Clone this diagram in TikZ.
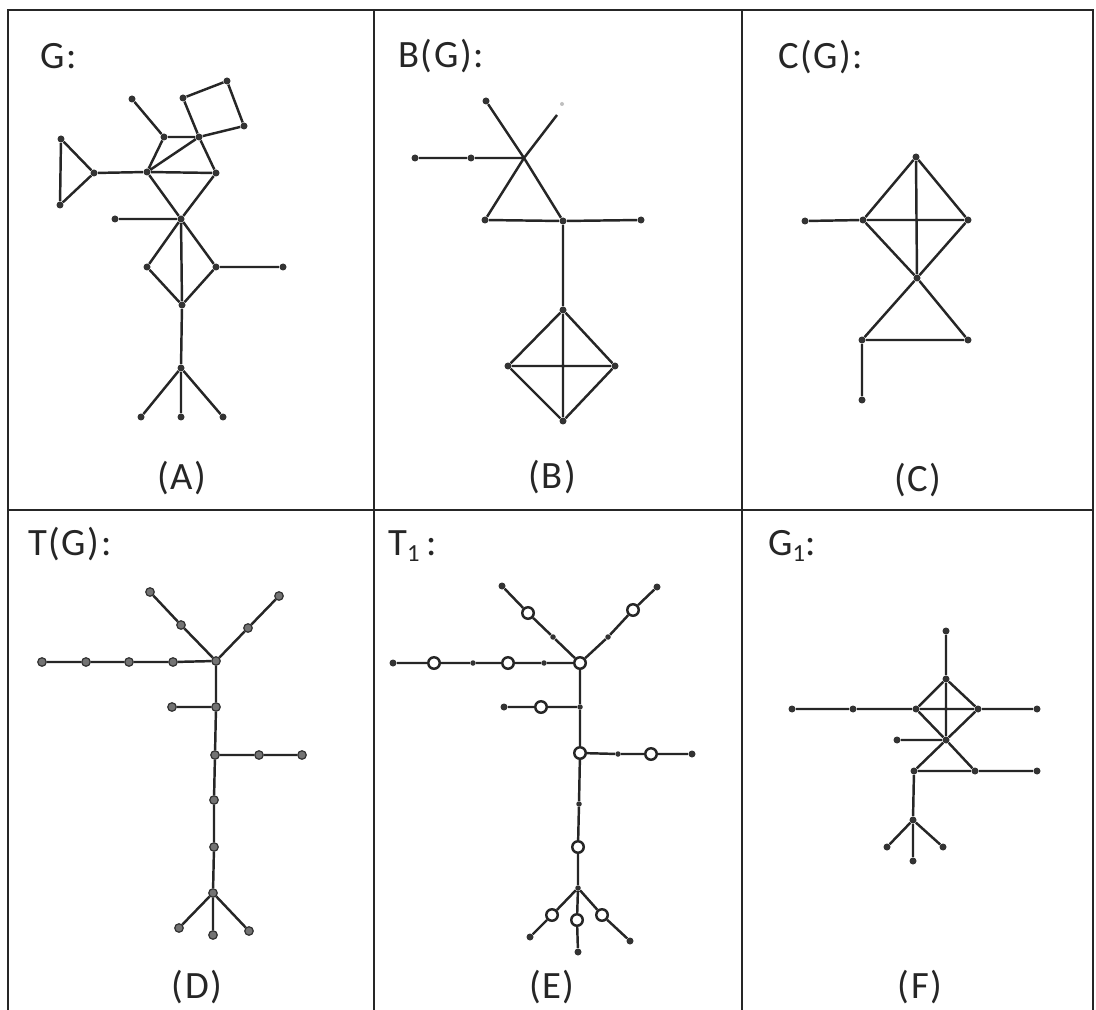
\documentclass[tikz,border=0pt]{standalone}
\usepackage{fontspec}
\setmainfont{Carlito}[LetterSpace=4]
\begin{document}
\begin{tikzpicture}[x=0.02cm,y=-0.02cm,
  edge/.style={line width=1.4pt, draw=black!85},
  v/.style={circle, fill=black!80, inner sep=0pt, minimum size=0.14cm},
  vg/.style={circle, fill=black!55, draw=black!80, line width=0.7pt, inner sep=0pt, minimum size=0.17cm},
  vo/.style={circle, fill=white, draw=black!85, line width=1.4pt, inner sep=0pt, minimum size=0.23cm},
  vs/.style={circle, fill=black!80, inner sep=0pt, minimum size=0.11cm},
  vf/.style={circle, fill=black!25, inner sep=0pt, minimum size=0.08cm},
  ttl/.style={anchor=west, inner sep=0pt, font=\fontsize{22}{22}\selectfont, text=black!85},
  lbl/.style={inner sep=0pt, font=\fontsize{22}{22}\selectfont, text=black!85},
  frame/.style={line width=1.4pt, draw=black!85}]
\useasboundingbox (0,0) rectangle (1096,1010);
\fill[white] (0,0) rectangle (1096,1010);
% frame
\draw[frame] (8,1010) -- (8,10) -- (1093,10) -- (1093,1010);
\draw[frame] (374,10) -- (374,1010);
\draw[frame] (742,10) -- (742,1010);
\draw[frame] (8,510) -- (1093,510);

% ---------- Panel A ----------
\node[ttl] (tA) at (40,56) {G:};
\node[lbl] (cA) at (182,478) {(A)};
\node[v] (a1) at (132,99) {};
\node[v] (a2) at (183,98) {};
\node[v] (a3) at (227,81) {};
\node[v] (a4) at (244,126) {};
\node[v] (a5) at (164,137) {};
\node[v] (a6) at (199,137) {};
\node[v] (a7) at (147,172) {};
\node[v] (a8) at (216,173) {};
\node[v] (a9) at (61,139) {};
\node[v] (a10) at (60,205) {};
\node[v] (a11) at (94,173) {};
\node[v] (a12) at (181,219) {};
\node[v] (a13) at (115,219) {};
\node[v] (a14) at (147,267) {};
\node[v] (a15) at (216,267) {};
\node[v] (a16) at (283,267) {};
\node[v] (a17) at (182,305) {};
\node[v] (a18) at (181,368) {};
\node[v] (a19) at (141,417) {};
\node[v] (a20) at (181,417) {};
\node[v] (a21) at (223,417) {};
\draw[edge] (a1)--(a5) (a5)--(a6) (a5)--(a7) (a7)--(a6) (a6)--(a8) (a7)--(a8)
  (a2)--(a3) (a3)--(a4) (a4)--(a6) (a6)--(a2)
  (a9)--(a10) (a9)--(a11) (a10)--(a11) (a11)--(a7)
  (a7)--(a12) (a8)--(a12) (a13)--(a12)
  (a12)--(a14) (a12)--(a15) (a14)--(a17) (a15)--(a17) (a12)--(a17) (a15)--(a16)
  (a17)--(a18) (a18)--(a19) (a18)--(a20) (a18)--(a21);

% ---------- Panel B ----------
\node[ttl] (tB) at (398,56) {B(G):};
\node[lbl] (cB) at (552,477) {(B)};
\node[v] (b1) at (486,101) {};
\coordinate (b2) at (557,115);
\node[vf] (b2m) at (562,104) {};
\coordinate (b3) at (524,158);
\node[v] (b4) at (415,158) {};
\node[v] (b5) at (471,158) {};
\node[v] (b6) at (485,220) {};
\node[v] (b7) at (563,221) {};
\node[v] (b8) at (641,220) {};
\node[v] (b9) at (563,310) {};
\node[v] (b10) at (508,366) {};
\node[v] (b11) at (615,366) {};
\node[v] (b12) at (563,421) {};
\draw[edge] (b1)--(b3)--(b7) (b3)--(b2) (b3)--(b6) (b6)--(b7) (b7)--(b8)
  (b4)--(b5)--(b3) (b7)--(b9)
  (b9)--(b10) (b9)--(b11) (b10)--(b12) (b11)--(b12) (b9)--(b12) (b10)--(b11);

% ---------- Panel C ----------
\node[ttl] (tC) at (778,57) {C(G):};
\node[lbl] (cC) at (918,480) {(C)};
\node[v] (c1) at (916,157) {};
\node[v] (c2) at (863,220) {};
\node[v] (c3) at (968,220) {};
\node[v] (c4) at (805,221) {};
\node[v] (c5) at (917,278) {};
\node[v] (c6) at (862,340) {};
\node[v] (c7) at (968,340) {};
\node[v] (c8) at (862,400) {};
\draw[edge] (c1)--(c2) (c1)--(c3) (c1)--(c5) (c2)--(c3) (c2)--(c5) (c3)--(c5)
  (c4)--(c2) (c5)--(c6) (c5)--(c7) (c6)--(c7) (c6)--(c8);

% ---------- Panel D ----------
\node[ttl] (tD) at (28,544) {T(G):};
\node[lbl] (cD) at (197,987) {(D)};
\node[vg] (d1) at (150,592) {};
\node[vg] (d2) at (181,625) {};
\node[vg] (d3) at (216,661) {};
\node[vg] (d4) at (279,596) {};
\node[vg] (d5) at (248,628) {};
\node[vg] (d6) at (42,662) {};
\node[vg] (d7) at (86,662) {};
\node[vg] (d8) at (129,662) {};
\node[vg] (d9) at (173,662) {};
\node[vg] (d10) at (216,707) {};
\node[vg] (d11) at (172,707) {};
\node[vg] (d12) at (215,755) {};
\node[vg] (d13) at (259,755) {};
\node[vg] (d14) at (302,755) {};
\node[vg] (d15) at (214,800) {};
\node[vg] (d16) at (214,847) {};
\node[vg] (d17) at (213,893) {};
\node[vg] (d18) at (179,928) {};
\node[vg] (d19) at (213,935) {};
\node[vg] (d20) at (249,931) {};
\draw[edge] (d1)--(d2)--(d3) (d4)--(d5)--(d3) (d6)--(d7)--(d8)--(d9)--(d3)
  (d3)--(d10)--(d12)--(d15)--(d16)--(d17) (d11)--(d10) (d12)--(d13)--(d14)
  (d17)--(d18) (d17)--(d19) (d17)--(d20);

% ---------- Panel E ----------
\node[ttl] (tE) at (388,546) {T\raisebox{-0.35ex}{\fontsize{14}{14}\selectfont 1}\,:};
\node[lbl] (cE) at (552,987) {(E)};
\node[v] (e1) at (502,586) {};
\node[vo] (e2) at (528,613) {};
\node[vs] (e3) at (553,637) {};
\node[vo] (e4) at (580,663) {};
\node[v] (e5) at (657,587) {};
\node[vo] (e6) at (633,610) {};
\node[vs] (e7) at (608,637) {};
\node[v] (e8) at (393,663) {};
\node[vo] (e9) at (434,663) {};
\node[vs] (e10) at (473,663) {};
\node[vo] (e11) at (508,663) {};
\node[vs] (e12) at (544,663) {};
\node[vs] (e13) at (580,707) {};
\node[vo] (e14) at (541,707) {};
\node[v] (e15) at (504,707) {};
\node[vo] (e16) at (580,753) {};
\node[vs] (e17) at (618,754) {};
\node[vo] (e18) at (651,754) {};
\node[v] (e19) at (692,754) {};
\node[vs] (e20) at (579,804) {};
\node[vo] (e21) at (578,847) {};
\node[vs] (e22) at (578,888) {};
\node[vo] (e23) at (552,915) {};
\node[v] (e24) at (530,937) {};
\node[vo] (e25) at (577,920) {};
\node[v] (e26) at (578,952) {};
\node[vo] (e27) at (602,915) {};
\node[v] (e28) at (630,941) {};
\draw[edge] (e1)--(e2)--(e3)--(e4) (e5)--(e6)--(e7)--(e4)
  (e8)--(e9)--(e10)--(e11)--(e12)--(e4)
  (e4)--(e13)--(e16)--(e20)--(e21)--(e22) (e15)--(e14)--(e13)
  (e16)--(e17)--(e18)--(e19)
  (e22)--(e23)--(e24) (e22)--(e25)--(e26) (e22)--(e27)--(e28);

% ---------- Panel F ----------
\node[ttl] (tF) at (768,546) {G\raisebox{-0.35ex}{\fontsize{14}{14}\selectfont 1}:};
\node[lbl] (cF) at (920,987) {(F)};
\node[v] (f1) at (946,631) {};
\node[v] (f2) at (946,679) {};
\node[v] (f3) at (916,709) {};
\node[v] (f4) at (978,709) {};
\node[v] (f5) at (792,709) {};
\node[v] (f6) at (853,709) {};
\node[v] (f7) at (1037,709) {};
\node[v] (f8) at (946,740) {};
\node[v] (f9) at (897,740) {};
\node[v] (f10) at (914,771) {};
\node[v] (f11) at (975,771) {};
\node[v] (f12) at (1037,771) {};
\node[v] (f13) at (913,820) {};
\node[v] (f14) at (887,847) {};
\node[v] (f15) at (913,861) {};
\node[v] (f16) at (943,847) {};
\draw[edge] (f1)--(f2) (f2)--(f3) (f2)--(f4) (f2)--(f8) (f3)--(f4) (f3)--(f8) (f4)--(f8)
  (f5)--(f6)--(f3) (f4)--(f7) (f9)--(f8)
  (f8)--(f10) (f8)--(f11) (f10)--(f11) (f11)--(f12) (f10)--(f13)
  (f13)--(f14) (f13)--(f15) (f13)--(f16);
\end{tikzpicture}
\end{document}
